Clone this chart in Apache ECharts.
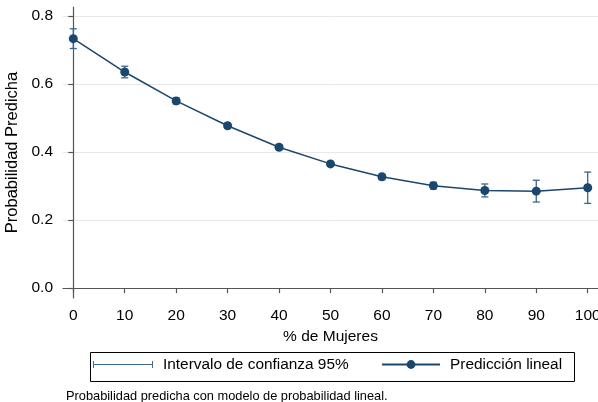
<!DOCTYPE html>
<html>
<head>
<meta charset="utf-8">
<script src="https://cdn.jsdelivr.net/npm/echarts@6/dist/echarts.min.js"></script>
<style>html,body{margin:0;padding:0;background:#fff}#c{width:598px;height:402px}</style>
</head>
<body>
<div id="c"></div>
<script>
// Data
var pctMujeres = [0, 10, 20, 30, 40, 50, 60, 70, 80, 90, 100];
var prediccion = [0.733, 0.635, 0.550, 0.477, 0.414, 0.365, 0.327, 0.301, 0.287, 0.285, 0.295];
var ciLow      = [0.704, 0.618, 0.541, 0.470, 0.407, 0.358, 0.319, 0.291, 0.268, 0.253, 0.249];
var ciHigh     = [0.762, 0.652, 0.559, 0.484, 0.421, 0.372, 0.335, 0.311, 0.306, 0.317, 0.341];
var xTicks = [0, 10, 20, 30, 40, 50, 60, 70, 80, 90, 100];
var yTicks = [0, 0.2, 0.4, 0.6, 0.8];
var yGrid  = [0.2, 0.4, 0.6, 0.8];
var nameCI = 'Intervalo de confianza 95%';
var namePred = 'Predicción lineal';
var footnote = 'Probabilidad predicha con modelo de probabilidad lineal.';

var FONT = "'Liberation Sans', Arial, sans-serif";
var NAVY = '#1a476f';
var CICOL = '#3a6690';

var predData = pctMujeres.map(function (x, i) { return [x, prediccion[i]]; });
var ciData = pctMujeres.map(function (x, i) { return [x, ciLow[i], ciHigh[i]]; });

var chart = echarts.init(document.getElementById('c'));
chart.setOption({
  animation: false,
  backgroundColor: '#fff',
  title: {
    text: footnote, left: 61, top: 385,
    textStyle: { fontFamily: FONT, fontSize: 12.8, fontWeight: 'normal', color: '#000' }
  },
  grid: { left: 63, right: 0, top: 7, bottom: 104, containLabel: false, outerBoundsMode: 'none' },
  legend: [{
    data: [{ name: nameCI, icon: 'path://M0,0h1.6v10h-1.6z M0,4.4h100v1.2h-100z M98.4,0h1.6v10h-1.6z' }],
    left: 88, top: 350, padding: [7, 0, 7, 5],
    itemWidth: 60, itemHeight: 7, symbolKeepAspect: false,
    textStyle: { fontFamily: FONT, fontSize: 15.4, color: '#000', padding: [0, 0, 0, 5] }
  }, {
    data: [namePred],
    left: 376, top: 350, padding: [7, 0, 7, 5],
    itemWidth: 58, itemHeight: 11,
    textStyle: { fontFamily: FONT, fontSize: 15.4, color: '#000', padding: [0, 0, 0, 5] }
  }],
  graphic: [{
    type: 'rect', left: 88, top: 350,
    shape: { width: 484, height: 29 },
    style: { fill: 'none', stroke: '#000', lineWidth: 1 }, silent: true
  }],
  xAxis: {
    type: 'value', min: -2, max: 102,
    name: '% de Mujeres', nameLocation: 'middle', nameGap: 26,
    nameTextStyle: { fontFamily: FONT, fontSize: 15.5, color: '#000' },
    axisLine: { show: true, lineStyle: { color: '#555', width: 1.2 } },
    axisTick: { show: true, length: 5, customValues: xTicks, lineStyle: { color: '#555', width: 1.2 } },
    axisLabel: { customValues: xTicks, margin: 10, fontFamily: FONT, fontSize: 15.5, color: '#000' },
    splitLine: { show: false }
  },
  yAxis: [{
    type: 'value', min: -0.029, max: 0.826,
    name: 'Probabilidad Predicha', nameLocation: 'middle', nameGap: 35,
    nameTextStyle: { fontFamily: FONT, fontSize: 16.5, color: '#000' },
    axisLine: { show: true, lineStyle: { color: '#555', width: 1.2 } },
    axisTick: { show: true, length: 5, customValues: yTicks, lineStyle: { color: '#555', width: 1.2 } },
    axisLabel: { customValues: yTicks, margin: 10, fontFamily: FONT, fontSize: 15.5, color: '#000',
      formatter: function (v) { return v.toFixed(1); } },
    splitLine: { show: false }
  }, {
    type: 'value', min: -0.029, max: 0.826, position: 'left',
    axisLine: { show: false },
    axisTick: { show: false, customValues: yGrid },
    axisLabel: { show: false, customValues: yGrid },
    splitLine: { show: true, lineStyle: { color: '#e8e8e8', width: 1 } }
  }],
  series: [{
    name: nameCI, type: 'custom', z: 1,
    itemStyle: { color: CICOL },
    encode: { x: 0, y: [1, 2] },
    data: ciData,
    renderItem: function (params, api) {
      var x = api.value(0);
      var lo = api.coord([x, api.value(1)]);
      var hi = api.coord([x, api.value(2)]);
      var hw = 3.5;
      var st = { stroke: CICOL, lineWidth: 1.3 };
      return {
        type: 'group',
        children: [
          { type: 'line', shape: { x1: lo[0], y1: lo[1], x2: hi[0], y2: hi[1] }, style: st },
          { type: 'line', shape: { x1: lo[0] - hw, y1: lo[1], x2: lo[0] + hw, y2: lo[1] }, style: st },
          { type: 'line', shape: { x1: hi[0] - hw, y1: hi[1], x2: hi[0] + hw, y2: hi[1] }, style: st }
        ]
      };
    }
  }, {
    name: namePred, type: 'line', z: 3,
    data: predData,
    symbol: 'circle', symbolSize: 9,
    itemStyle: { color: NAVY },
    lineStyle: { color: NAVY, width: 1.5 }
  }]
});
</script>
</body>
</html>
